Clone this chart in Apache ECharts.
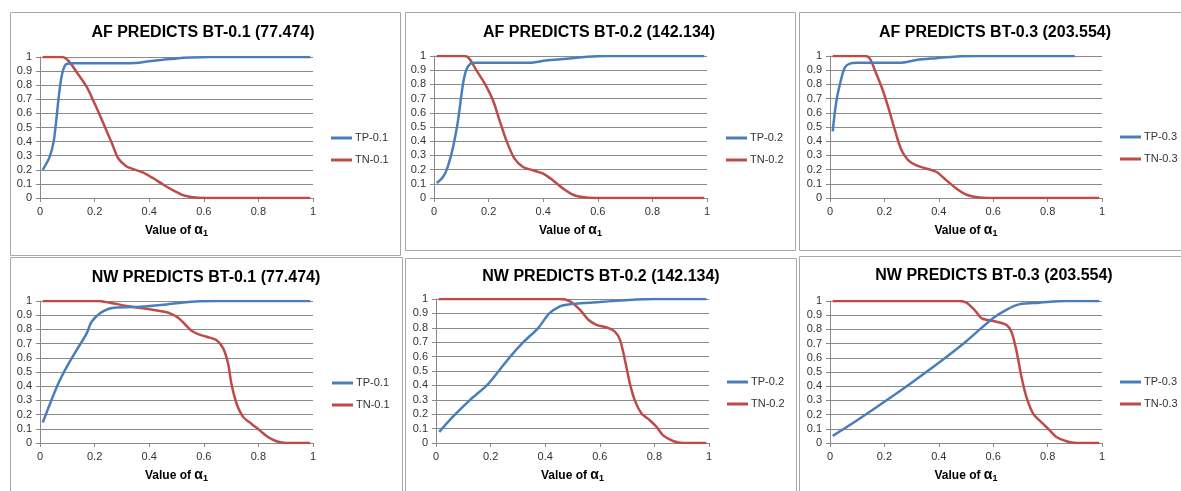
<!DOCTYPE html>
<html>
<head>
<meta charset="utf-8">
<script src="https://cdn.jsdelivr.net/npm/echarts@6/dist/echarts.min.js"></script>
<style>
html,body{margin:0;padding:0;background:#fff;}
#c{width:1181px;height:491px;}
</style>
</head>
<body>
<div id="c"></div>
<script>
// ---- data ([alpha1, rate]) ----
const titles = ['AF PREDICTS BT-0.1 (77.474)','AF PREDICTS BT-0.2 (142.134)','AF PREDICTS BT-0.3 (203.554)',
                'NW PREDICTS BT-0.1 (77.474)','NW PREDICTS BT-0.2 (142.134)','NW PREDICTS BT-0.3 (203.554)'];
const tpNames = ['TP-0.1','TP-0.2','TP-0.3','TP-0.1','TP-0.2','TP-0.3'];
const tnNames = ['TN-0.1','TN-0.2','TN-0.3','TN-0.1','TN-0.2','TN-0.3'];
const xTicks = [0,0.2,0.4,0.6,0.8,1];
const yTicks = [0,0.1,0.2,0.3,0.4,0.5,0.6,0.7,0.8,0.9,1];

const afTP1 = [[0.01,0.2],[0.035,0.29],[0.05,0.4],[0.06,0.56],[0.07,0.74],[0.08,0.87],[0.09,0.935],[0.1,0.952],[0.12,0.955],[0.2,0.955],[0.3,0.955],[0.35,0.958],[0.4,0.97],[0.45,0.98],[0.5,0.99],[0.55,0.996],[0.62,1],[0.8,1],[0.99,1]];
const afTN1 = [[0.01,1],[0.08,1],[0.095,0.99],[0.11,0.96],[0.134,0.894],[0.171,0.788],[0.2,0.67],[0.232,0.53],[0.263,0.39],[0.287,0.28],[0.317,0.224],[0.342,0.205],[0.378,0.18],[0.415,0.14],[0.452,0.094],[0.488,0.054],[0.53,0.016],[0.58,0.002],[0.65,0],[0.99,0]];
const afTP2 = [[0.01,0.106],[0.033,0.148],[0.05,0.218],[0.07,0.36],[0.088,0.547],[0.106,0.8],[0.118,0.9],[0.133,0.945],[0.15,0.952],[0.25,0.953],[0.35,0.953],[0.41,0.968],[0.485,0.98],[0.56,0.994],[0.63,1],[0.8,1],[0.99,1]];
const afTN2 = [[0.01,1],[0.112,1],[0.13,0.98],[0.155,0.9],[0.186,0.805],[0.216,0.688],[0.24,0.547],[0.265,0.406],[0.295,0.277],[0.326,0.218],[0.363,0.195],[0.4,0.171],[0.436,0.124],[0.473,0.066],[0.509,0.023],[0.558,0.003],[0.607,0],[0.99,0]];
const afTP3 = [[0.01,0.47],[0.024,0.688],[0.043,0.852],[0.055,0.92],[0.073,0.946],[0.1,0.952],[0.2,0.953],[0.257,0.953],[0.318,0.972],[0.392,0.985],[0.465,0.997],[0.54,1],[0.7,1],[0.9,1]];
const afTN3 = [[0.01,1],[0.129,1],[0.147,0.98],[0.165,0.9],[0.19,0.78],[0.214,0.64],[0.239,0.476],[0.263,0.336],[0.288,0.265],[0.318,0.23],[0.355,0.207],[0.392,0.183],[0.428,0.124],[0.465,0.066],[0.502,0.023],[0.551,0.003],[0.6,0],[0.99,0]];
const nwTP1 = [[0.01,0.144],[0.037,0.278],[0.067,0.419],[0.098,0.536],[0.134,0.654],[0.171,0.772],[0.189,0.854],[0.22,0.913],[0.25,0.944],[0.28,0.955],[0.341,0.957],[0.402,0.965],[0.463,0.976],[0.524,0.99],[0.585,0.998],[0.646,1],[0.8,1],[0.99,1]];
const nwTN1 = [[0.01,1],[0.207,1],[0.256,0.988],[0.317,0.965],[0.378,0.948],[0.439,0.929],[0.476,0.913],[0.506,0.882],[0.53,0.838],[0.555,0.79],[0.579,0.767],[0.61,0.748],[0.646,0.725],[0.671,0.666],[0.689,0.56],[0.701,0.419],[0.72,0.278],[0.744,0.184],[0.774,0.136],[0.805,0.089],[0.835,0.042],[0.866,0.012],[0.902,0],[0.99,0]];
const nwTP2 = [[0.012,0.077],[0.022,0.1],[0.071,0.2],[0.125,0.3],[0.186,0.4],[0.23,0.5],[0.272,0.6],[0.32,0.7],[0.375,0.8],[0.415,0.9],[0.454,0.949],[0.479,0.96],[0.54,0.972],[0.6,0.979],[0.661,0.988],[0.722,0.995],[0.795,1],[0.99,1]];
const nwTN2 = [[0.01,1],[0.454,1],[0.491,0.984],[0.527,0.926],[0.558,0.856],[0.588,0.821],[0.625,0.802],[0.655,0.774],[0.674,0.716],[0.692,0.577],[0.71,0.414],[0.728,0.298],[0.753,0.205],[0.783,0.158],[0.808,0.112],[0.832,0.053],[0.868,0.014],[0.905,0],[0.99,0]];
const nwTP3 = [[0.01,0.05],[0.1,0.16],[0.2,0.29],[0.3,0.425],[0.4,0.565],[0.5,0.715],[0.6,0.88],[0.65,0.94],[0.698,0.978],[0.77,0.988],[0.87,1],[0.99,1]];
const nwTN3 = [[0.01,1],[0.477,1],[0.502,0.988],[0.532,0.936],[0.557,0.878],[0.581,0.866],[0.612,0.854],[0.649,0.831],[0.667,0.784],[0.685,0.654],[0.704,0.466],[0.722,0.325],[0.747,0.207],[0.783,0.136],[0.808,0.089],[0.832,0.042],[0.869,0.012],[0.906,0],[0.99,0]];

const tpData = [afTP1, afTP2, afTP3, nwTP1, nwTP2, nwTP3];
const tnData = [afTN1, afTN2, afTN3, nwTN1, nwTN2, nwTN3];

// ---- layout ----
const grids = [
  {left:40, top:57, width:273, height:141},
  {left:434, top:56, width:273, height:142},
  {left:830, top:56, width:272, height:142},
  {left:40, top:301, width:273, height:142},
  {left:436, top:299, width:273, height:144},
  {left:830, top:301, width:272, height:142}
];
const boxes = [
  [10,12,390,243],[405,12,390,238],[799,12,390,238],
  [10,257,392,240],[405,258,391,240],[799,256,390,240]
];
const titlePos = [[203,33],[599,33],[995,33],[206,278],[601,277],[994,276]];
const legendPos = [[331,131],[726,131],[1120,130],[332,376],[727,375],[1120,375]];

const BLUE = '#4A7EBB', RED = '#BE4B48', GRID = '#8a8a8a';
const FONT = '"Liberation Sans", Arial, sans-serif';

const option = {
  backgroundColor:'#ffffff',
  animation:false,
  grid: grids.map(g => Object.assign({containLabel:false}, g)),
  xAxis: grids.map((g,i) => ({
    type:'value', gridIndex:i, min:0, max:1, interval:0.2,
    name:'Value of {a|α}{s|1}', nameLocation:'middle', nameGap:25,
    nameTextStyle:{fontFamily:FONT, fontWeight:'bold', fontSize:12, color:'#000',
      rich:{a:{fontFamily:FONT, fontWeight:'bold', fontSize:14, color:'#000'},
            s:{fontFamily:FONT, fontWeight:'bold', fontSize:9, color:'#000', verticalAlign:'bottom', padding:[6,0,0,0]}}},
    axisLine:{show:true, onZero:false, lineStyle:{color:GRID, width:1}},
    axisTick:{show:true, inside:false, length:4, lineStyle:{color:GRID}},
    axisLabel:{fontFamily:FONT, fontSize:11, color:'#333', margin:8,
      formatter: v => { const t = xTicks.find(x => Math.abs(x-v)<1e-9); return t===undefined ? '' : String(t); }},
    splitLine:{show:false}
  })),
  yAxis: grids.map((g,i) => ({
    type:'value', gridIndex:i, min:0, max:1, interval:0.1,
    axisLine:{show:true, onZero:false, lineStyle:{color:GRID, width:1}},
    axisTick:{show:true, inside:false, length:4, lineStyle:{color:GRID}},
    axisLabel:{fontFamily:FONT, fontSize:11, color:'#333', margin:8,
      formatter: v => { const t = yTicks.find(y => Math.abs(y-v)<1e-9); return t===undefined ? '' : String(t); }},
    splitLine:{show:true, lineStyle:{color:GRID, width:1}}
  })),
  legend: legendPos.map((p,i) => ({
    left:p[0], top:p[1], orient:'vertical', padding:0, icon:'rect',
    itemWidth:21, itemHeight:3, itemGap:8,
    data:[tpNames[i], tnNames[i]], selectedMode:false,
    textStyle:{fontFamily:FONT, fontSize:11, color:'#333', lineHeight:14, padding:[0,0,0,-2]}
  })),
  series: [],
  graphic: []
};

for (let i=0;i<6;i++){
  option.series.push({
    type:'line', name:tpNames[i], xAxisIndex:i, yAxisIndex:i, data:tpData[i],
    symbol:'none', smooth:0.3, lineStyle:{color:BLUE, width:2.5}, itemStyle:{color:BLUE}, z:3
  });
  option.series.push({
    type:'line', name:tnNames[i], xAxisIndex:i, yAxisIndex:i, data:tnData[i],
    symbol:'none', smooth:0.3, lineStyle:{color:RED, width:2.5}, itemStyle:{color:RED}, z:2
  });
  const b = boxes[i];
  option.graphic.push({type:'rect', silent:true, z:-10,
    shape:{x:b[0]+0.5, y:b[1]+0.5, width:b[2], height:b[3]},
    style:{fill:'#fff', stroke:'#a8a8a8', lineWidth:1}});
  option.graphic.push({type:'text', silent:true, x:titlePos[i][0], y:titlePos[i][1],
    style:{text:titles[i], fontFamily:FONT, fontWeight:'bold', fontSize:16, fill:'#000',
      textAlign:'center', textVerticalAlign:'middle'}});
}

const chart = echarts.init(document.getElementById('c'), null, {renderer:'canvas'});
chart.setOption(option);
</script>
</body>
</html>
